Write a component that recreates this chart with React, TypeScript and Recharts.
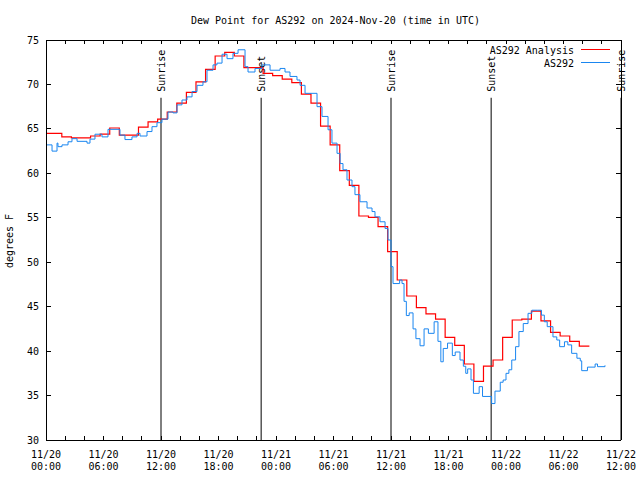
import React from "react";
import { LineChart, Line, XAxis, YAxis, ReferenceLine, Legend } from "recharts";

const FONT = "'DejaVu Sans Mono', 'Liberation Mono', monospace";

const chartTitle = "Dew Point for AS292 on 2024-Nov-20 (time in UTC)";
const yAxisTitle = "degrees F";
const analysisName = "AS292 Analysis";
const obsName = "AS292";

// hours since 11/20 00:00 UTC
const analysisHours = [
  0, 0.65, 1.65, 2.65, 3.65, 4.65, 5.65, 6.65, 7.65, 8.65, 9.65, 10.65, 11.65, 12.65, 13.65,
  14.65, 15.65, 16.65, 17.65, 18.65, 19.65, 20.65, 21.65, 22.65, 23.65, 24.65, 25.65, 26.65,
  27.65, 28.65, 29.65, 30.65, 31.65, 32.65, 33.65, 34.65, 35.65, 36.65, 37.65, 38.65, 39.65,
  40.65, 41.65, 42.65, 43.65, 44.65, 45.65, 46.65, 47.65, 48.65, 49.65, 50.65, 51.65, 52.65,
  53.65, 54.65, 55.65, 56.7,
];
const analysisValues = [
  64.5, 64.5, 64.1, 64.0, 64.0, 64.2, 64.4, 65.1, 64.3, 64.3, 65.2, 65.8, 66.1, 66.9, 67.9,
  69.1, 70.3, 71.7, 73.2, 73.6, 73.2, 71.9, 71.9, 71.25, 71.0, 70.6, 70.2, 68.9,
  67.9, 65.3, 63.2, 60.3, 58.65, 55.2, 55.05, 54.0, 51.2, 48.0, 46.2, 44.9, 44.2,
  43.6, 41.55, 40.65, 38.55, 36.6, 38.3, 39.0, 41.55, 43.5, 43.6, 44.5, 43.4, 42.1,
  41.7, 41.1, 40.55, 40.55,
];

const obsHours = [
  0, 0.63, 1.15, 1.25, 1.67, 2.3, 2.71, 3.24, 4.28, 4.59, 5.11, 5.84, 6.47, 7.72, 8.24, 8.97,
  9.5, 9.81, 10.54, 11.06, 11.58, 12.1, 12.73, 13.25, 13.67, 14.19, 14.71, 15.24, 15.76, 16.38,
  16.8, 17.43, 17.84, 18.37, 18.89, 19.51, 20.04, 20.77, 21.08, 21.81, 22.54, 23.38, 24.42,
  24.94, 25.46, 26.19, 26.51, 27.03, 28.28, 28.8, 29.43, 29.84, 30.37, 30.69, 30.99, 31.41,
  31.93, 32.24, 32.76, 33.5, 34.02, 34.33, 34.85, 35.38, 35.69, 36.0, 36.21, 36.9, 37.15,
  37.36, 37.6, 37.9, 38.3, 38.6, 39.03, 39.45, 39.9, 40.5, 40.9, 41.2, 41.45, 41.9, 42.4,
  42.7, 43.2, 43.55, 43.8, 44.0, 44.35, 44.6, 45.2, 45.55, 46.5, 46.85, 47.4, 47.7, 48.0,
  48.3, 48.6, 49.0, 49.35, 49.8, 50.3, 50.7, 51.3, 51.7, 52.0, 52.3, 52.9, 53.3, 53.6, 54.1,
  54.45, 54.85, 55.4, 55.75, 55.9, 56.5, 57.3, 57.55, 58.33,
];
const obsValues = [
  63.2, 62.5, 63.4, 63.0, 63.2, 63.55, 63.9, 63.6, 63.4, 63.85, 64.4, 64.1, 64.95, 64.3, 63.8, 64.1,
  64.5, 64.2, 64.7, 65.25, 65.7, 66.1, 66.9, 66.8, 67.7, 68.25, 68.6, 69.2, 69.9, 70.3,
  71.6, 72.2, 72.4, 73.4, 72.9, 73.5, 73.9, 72.0, 71.4, 71.8, 72.2, 71.6, 71.8,
  71.4, 70.9, 70.5, 69.9, 69.0, 67.5, 66.4, 64.9, 63.4, 62.25, 61.1, 60.4, 59.25,
  58.5, 57.6, 56.8, 56.1, 55.7, 55.1, 54.55, 53.8, 52.5, 49.5, 47.6, 48.0, 47.6,
  45.6, 44.0, 44.3, 42.5, 41.4, 40.6, 42.5, 42.0, 43.3, 41.1, 38.8, 40.3, 40.9, 39.5,
  39.9, 39.0, 38.3, 37.5, 38.0, 36.75, 35.25, 36.0, 34.9, 34.1, 35.5, 36.5, 36.75, 37.5,
  37.9, 39.0, 40.5, 42.2, 43.1, 44.25, 44.6, 44.6, 44.05, 43.3, 42.75, 41.6, 41.25, 40.5, 41.05,
  40.7, 39.75, 39.2, 38.9, 37.8, 38.2, 38.55, 38.25, 38.4,
];

const xTickHours = [
  0, 2, 4, 6, 8, 10, 12, 14, 16, 18, 20, 22, 24, 26, 28, 30, 32, 34, 36, 38, 40, 42, 44, 46,
  48, 50, 52, 54, 56, 58, 60,
];
const xLabelStep = 6;
const yTicks = [30, 35, 40, 45, 50, 55, 60, 65, 70, 75];
const sunEventHours = [12, 22.45, 36, 46.45, 60];
const sunEventNames = ["Sunrise", "Sunset", "Sunrise", "Sunset", "Sunrise"];
const sunMarkerTop = 68.5;
const startMonth = 11;
const startDay = 20;

const analysisData = analysisHours.map((h, i) => ({ h, v: analysisValues[i] }));
const obsData = obsHours.map((h, i) => ({ h, v: obsValues[i] }));

const pad2 = (n: number) => (n < 10 ? "0" + n : "" + n);
const fmtDate = (h: number) => `${startMonth}/${startDay + Math.floor(h / 24)}`;
const fmtTime = (h: number) => `${pad2(h % 24)}:00`;

const txt = { fontFamily: FONT, fontSize: 10, fill: "#000" };

const BottomTick = (props: any) => {
  const { x, y, payload } = props;
  const v = payload.value;
  return (
    <g>
      <line x1={x} y1={y} x2={x} y2={y - 4} stroke="#000" shapeRendering="crispEdges" />
      {v % xLabelStep === 0 && (
        <g>
          <text x={x} y={y + 17.5} textAnchor="middle" {...txt}>{fmtDate(v)}</text>
          <text x={x} y={y + 30} textAnchor="middle" {...txt}>{fmtTime(v)}</text>
        </g>
      )}
    </g>
  );
};

const TopTick = (props: any) => {
  const { x, y } = props;
  return <line x1={x} y1={y} x2={x} y2={y + 4} stroke="#000" shapeRendering="crispEdges" />;
};

const LeftTick = (props: any) => {
  const { x, y, payload } = props;
  return (
    <g>
      <line x1={x} y1={y} x2={x + 5} y2={y} stroke="#000" shapeRendering="crispEdges" />
      <text x={x - 7} y={y + 3.5} textAnchor="end" {...txt}>{payload.value}</text>
    </g>
  );
};

const RightTick = (props: any) => {
  const { x, y } = props;
  return <line x1={x} y1={y} x2={x - 5} y2={y} stroke="#000" shapeRendering="crispEdges" />;
};

const TitleLabel = (props: any) => {
  const vb = props.viewBox || { x: 0, y: 0, width: 640, height: 40 };
  return (
    <text x={vb.x + vb.width / 2 + 2} y={vb.y + vb.height - 16} textAnchor="middle" {...txt}>
      {chartTitle}
    </text>
  );
};

const YTitleLabel = (props: any) => {
  const vb = props.viewBox || { x: 0, y: 40, width: 46, height: 400 };
  const cx = vb.x + 13;
  const cy = vb.y + vb.height / 2 + 1;
  return (
    <text x={cx} y={cy} transform={`rotate(-90 ${cx} ${cy})`} textAnchor="middle" {...txt}>
      {yAxisTitle}
    </text>
  );
};

const SunLabel = (props: any) => {
  const vb = props.viewBox;
  if (!vb) return null;
  const x = vb.x + 4;
  const y = vb.y - 6;
  return (
    <text x={x} y={y} transform={`rotate(-90 ${x} ${y})`} textAnchor="start" {...txt}>
      {props.text}
    </text>
  );
};

const legendOrder = [analysisName, obsName];
const LegendContent = (props: any) => {
  const items = [...(props.payload || [])].sort(
    (a: any, b: any) => legendOrder.indexOf(a.value) - legendOrder.indexOf(b.value)
  );
  return (
    <svg width={180} height={30} style={{ display: "block", overflow: "visible" }}>
      {items.map((it: any, i: number) => {
        const yb = 14 + i * 13;
        return (
          <g key={i}>
            <text x={134} y={yb} textAnchor="end" {...txt}>{it.value}</text>
            <line x1={141} x2={170} y1={yb - 4.5} y2={yb - 4.5} stroke={it.color} strokeWidth={1} />
          </g>
        );
      })}
    </svg>
  );
};

export default function App() {
  return (
    <div style={{ position: "absolute", left: 0, top: 0, width: 640, height: 480, background: "#fff" }}>
      <LineChart width={640} height={480} margin={{ top: 0, right: 0, bottom: 0, left: 0 }}>
        <XAxis
          xAxisId="b"
          dataKey="h"
          type="number"
          domain={[0, 60]}
          allowDataOverflow
          ticks={xTickHours}
          interval={0}
          height={40}
          tickSize={0}
          tickMargin={0}
          tickLine={false}
          axisLine={{ stroke: "#000", shapeRendering: "crispEdges" }}
          tick={<BottomTick />}
        />
        <XAxis
          xAxisId="t"
          orientation="top"
          dataKey="h"
          type="number"
          domain={[0, 60]}
          allowDataOverflow
          ticks={xTickHours}
          interval={0}
          height={40}
          tickSize={0}
          tickMargin={0}
          tickLine={false}
          axisLine={{ stroke: "#000", shapeRendering: "crispEdges" }}
          tick={<TopTick />}
          label={(p: any) => <TitleLabel {...p} />}
        />
        <YAxis
          yAxisId="l"
          type="number"
          domain={[30, 75]}
          allowDataOverflow
          ticks={yTicks}
          interval={0}
          width={46}
          tickSize={0}
          tickMargin={0}
          tickLine={false}
          axisLine={{ stroke: "#000", shapeRendering: "crispEdges" }}
          tick={<LeftTick />}
          label={(p: any) => <YTitleLabel {...p} />}
        />
        <YAxis
          yAxisId="r"
          orientation="right"
          type="number"
          domain={[30, 75]}
          allowDataOverflow
          ticks={yTicks}
          interval={0}
          width={19}
          tickSize={0}
          tickMargin={0}
          tickLine={false}
          axisLine={{ stroke: "#000", shapeRendering: "crispEdges" }}
          tick={<RightTick />}
        />
        {sunEventHours.map((h, i) => (
          <ReferenceLine
            key={"sun" + i}
            xAxisId="b"
            yAxisId="l"
            ifOverflow="visible"
            segment={[
              { x: h, y: 30 },
              { x: h, y: sunMarkerTop },
            ]}
            stroke="#000"
            strokeWidth={1}
            label={(p: any) => <SunLabel {...p} text={sunEventNames[i]} />}
          />
        ))}
        <Line
          xAxisId="b"
          yAxisId="l"
          data={analysisData}
          dataKey="v"
          name={analysisName}
          type="stepAfter"
          stroke="#ff0000"
          strokeWidth={1.2}
          dot={false}
          activeDot={false}
          isAnimationActive={false}
        />
        <Line
          xAxisId="b"
          yAxisId="l"
          data={obsData}
          dataKey="v"
          name={obsName}
          type="stepAfter"
          stroke="#1a86f0"
          strokeWidth={1}
          dot={false}
          activeDot={false}
          isAnimationActive={false}
        />
        <Legend
          layout="vertical"
          align="center"
          verticalAlign="middle"
          wrapperStyle={{ left: 440, top: 40, width: 180, height: 30 }}
          content={(p: any) => <LegendContent {...p} />}
        />
      </LineChart>
    </div>
  );
}
